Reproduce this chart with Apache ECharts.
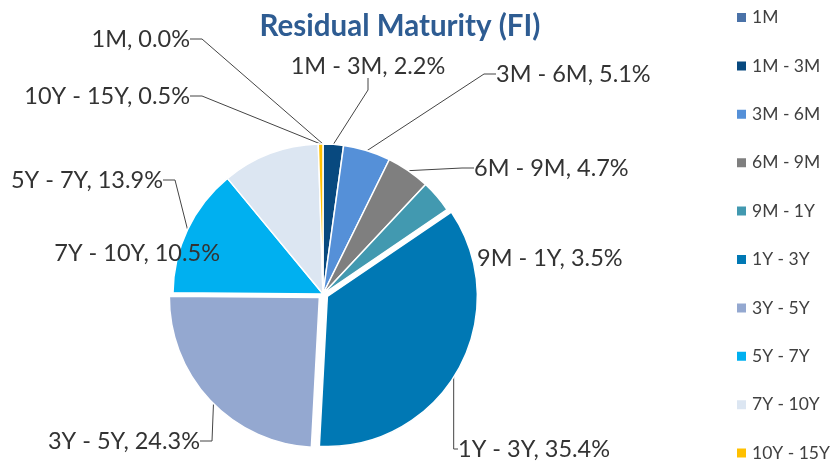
<!DOCTYPE html>
<html>
<head>
<meta charset="utf-8">
<script src="https://cdn.jsdelivr.net/npm/echarts@6/dist/echarts.min.js"></script>
<style>
    html, body { margin: 0; padding: 0; background: #fff; }
    #chart { width: 835px; height: 464px; }
</style>
</head>
<body>
<div id="chart"></div>
<script>
// residual maturity buckets and their share (%)
const buckets = ["1M", "1M - 3M", "3M - 6M", "6M - 9M", "9M - 1Y", "1Y - 3Y", "3Y - 5Y", "5Y - 7Y", "7Y - 10Y", "10Y - 15Y"];
const shares = [0.0, 2.2, 5.1, 4.7, 3.5, 35.4, 24.3, 13.9, 10.5, 0.5];

const colors = ["#4A72A8", "#08497F", "#5590D8", "#7F7F7F", "#4299B0", "#0078B4", "#94A8D0", "#00B0F0", "#DCE6F2", "#FFC000"];
const exploded = ["1Y - 3Y", "3Y - 5Y"];
const noLine = ["9M - 1Y", "7Y - 10Y"];

// where excel put each data label: [x, y, align]
const labelSpots = [
    [190, 39, "right"],
    [368, 66, "center"],
    [496, 74, "left"],
    [474, 168, "left"],
    [477, 258, "left"],
    [458, 449, "left"],
    [200, 441, "right"],
    [163, 180, "right"],
    [220, 253, "right"],
    [190, 96, "right"],
];

const pieCenter = [323, 294];
const pieRadius = 150;

const chart = echarts.init(document.getElementById("chart"));

const option = {
    animation: false,
    color: colors,
    title: {
        text: "Residual Maturity (FI)",
        left: 395,
        top: 6,
        textAlign: "center",
        textStyle: {
            fontFamily: "Lato",
            fontWeight: "bold",
            fontSize: 29.5,
            color: "#2E5C92",
        },
    },
    legend: {
        orient: "vertical",
        left: 735,
        top: 7.5,
        padding: 0,
        itemWidth: 11,
        itemHeight: 11,
        itemGap: 28.4,
        icon: "rect",
        data: buckets,
        textStyle: {
            fontFamily: "Lato",
            fontSize: 17.5,
            lineHeight: 20,
            color: "#404040",
        },
    },
    series: [
        // the slices, two of them pulled out
        {
            type: "pie",
            center: pieCenter,
            radius: pieRadius,
            startAngle: 90,
            clockwise: true,
            selectedMode: "multiple",
            selectedOffset: 5,
            itemStyle: { borderColor: "#fff", borderWidth: 1.5 },
            label: { show: false },
            labelLine: { show: false },
            emphasis: { disabled: true },
            data: buckets.map((b, i) => ({
                name: b,
                value: shares[i],
                selected: exploded.includes(b),
            })),
        },
        // same pie, invisible, only carries the data labels
        // (selected slices keep their default label spot, so labels live here)
        {
            type: "pie",
            center: pieCenter,
            radius: pieRadius,
            startAngle: 90,
            clockwise: true,
            silent: true,
            selectedMode: false,
            avoidLabelOverlap: false,
            itemStyle: { color: "rgba(0,0,0,0)" },
            label: {
                show: true,
                position: "outside",
                formatter: (p) => `${p.name}, ${p.value.toFixed(1)}%`,
                fontFamily: "Lato",
                fontSize: 23.5,
                color: "#333",
            },
            labelLine: {
                show: true,
                length: 10,
                length2: 12,
                lineStyle: { color: "#444", width: 1 },
            },
            labelLayout: (params) => {
                const s = labelSpots[params.dataIndex];
                return { x: s[0], y: s[1], align: s[2], verticalAlign: "middle" };
            },
            emphasis: { disabled: true },
            data: buckets.map((b, i) => ({
                name: b,
                value: shares[i],
                labelLine: { show: !noLine.includes(b) },
            })),
        },
    ],
};

chart.setOption(option);
</script>
</body>
</html>
